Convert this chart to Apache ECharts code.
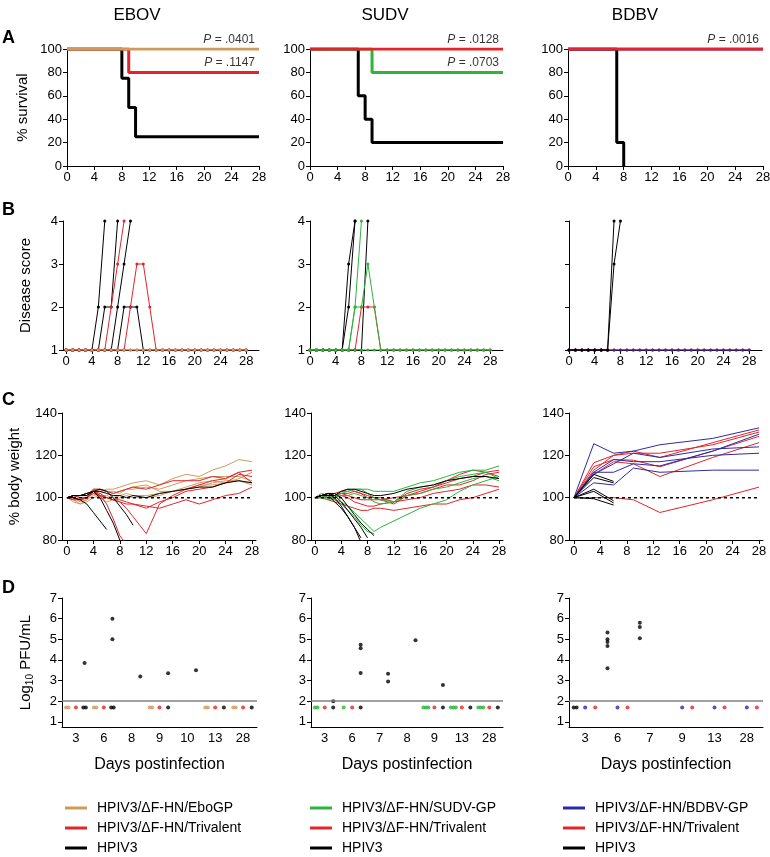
<!DOCTYPE html>
<html><head><meta charset="utf-8">
<script src="https://cdn.jsdelivr.net/npm/echarts@6/dist/echarts.min.js"></script>
<style>html,body{margin:0;padding:0;background:#fff}#c{width:770px;height:857px}</style>
</head><body><div id="c"></div>
<script>
const FONT = '"Liberation Sans", Arial, sans-serif';
const COL = {ebo:'#cf9b5c', tri:'#e3242b', hpiv:'#000000', sudv:'#2cb53a', bdbv:'#2b2ba6'};
const NAMES = {
  ebo:'HPIV3/ΔF-HN/EboGP', sudv:'HPIV3/ΔF-HN/SUDV-GP', bdbv:'HPIV3/ΔF-HN/BDBV-GP',
  tri:'HPIV3/ΔF-HN/Trivalent', hpiv:'HPIV3'
};
const columnTitles = ['EBOV','SUDV','BDBV'];
const panelLetters = ['A','B','C','D'];

// ---------- A: % survival (change points [day, %]) ----------
const survEbov_EboGP = [[0,100],[28,100]];
const survEbov_Tri   = [[0,100],[9,80],[28,80]];
const survEbov_HPIV3 = [[0,100],[8,75],[9,50],[10,25],[28,25]];
const survSudv_SudvGP= [[0,100],[9,80],[28,80]];
const survSudv_Tri   = [[0,100],[28,100]];
const survSudv_HPIV3 = [[0,100],[7,60],[8,40],[9,20],[28,20]];
const survBdbv_BdbvGP= [[0,100],[28,100]];
const survBdbv_Tri   = [[0,100],[28,100]];
const survBdbv_HPIV3 = [[0,100],[7,20],[8,0]];
const pEbov = {ebo:'.0401', tri:'.1147'};
const pSudv = {tri:'.0128', sudv:'.0703'};
const pBdbv = {tri:'.0016'};
const survTicksX = [0,4,8,12,16,20,24,28];

// ---------- B: disease score (one value per day from day 0) ----------
const allOnes = [1,1,1,1,1,1,1,1,1,1,1,1,1,1,1,1,1,1,1,1,1,1,1,1,1,1,1,1,1];
const scoreEbov_HPIV3 = [
  [1,1,1,1,1,2,4],
  [1,1,1,1,1,1,2,2,4],
  [1,1,1,1,1,1,1,1,2,3,4],
  [1,1,1,1,1,1,1,1,1,2,2,2,1,1,1,1,1,1,1,1,1,1,1,1,1,1,1,1,1]
];
const scoreEbov_Tri = [
  [1,1,1,1,1,1,1,2,3,4],
  [1,1,1,1,1,1,1,1,1,1,2,3,3,2,1,1,1,1,1,1,1,1,1,1,1,1,1,1,1],
  allOnes
];
const scoreEbov_EboGP = [allOnes];
const scoreSudv_HPIV3 = [
  [1,1,1,1,1,1,2,4],
  [1,1,1,1,1,1,3,4],
  [1,1,1,1,1,1,1,1,1,4]
];
const scoreSudv_Tri = [
  [1,1,1,1,1,1,1,1,2,2,2,1,1,1,1,1,1,1,1,1,1,1,1,1,1,1,1,1,1]
];
const scoreSudv_SudvGP = [
  [1,1,1,1,1,1,1,2,4],
  [1,1,1,1,1,1,1,2,2,3,2,1,1,1,1,1,1,1,1,1,1,1,1,1,1,1,1,1,1],
  allOnes
];
const scoreBdbv_Tri = [allOnes];
const scoreBdbv_BdbvGP = [allOnes];
const scoreBdbv_HPIV3 = [
  [1,1,1,1,1,1,1,4],
  [1,1,1,1,1,1,1,3,4]
];

// ---------- C: % body weight ----------
const bwDays = [0,1,2,3,4,5,6,7,8,9,10,12,14,16,18,20,22,24,26,28];
const bwEbov_EboGP = [
  [100,99,99,100,103,103,104,104,105,106,107,108,106,109,111,110,113,115,118,117],
  [100,100,98,99,101,102,103,102,103,104,104,105,104,106,108,109,110,110,110,108],
  [100,99,97,98,100,101,101,100,101,102,101,101,102,103,104,105,107,108,108,107],
  [100,101,100,100,102,100,98,99,100,101,100,100,101,103,105,107,108,107,109,112],
  [100,98,97,99,104,104,103,103,102,104,105,106,103,103,104,106,106,107,108,106]
];
const bwEbov_Tri = [
  [100,99,99,100,103,102,100,99,98,95,91,83,97,101,104,106,108,109,112,113],
  [100,100,99,100,102,101,100,99,99,98,97,95,98,100,103,104,105,107,111,110],
  [100,101,100,100,103,101,100,99,98,97,97,96,95,97,99,97,99,101,102,105],
  [100,101,101,101,104,104,103,102,103,104,105,104,106,108,108,108,110,109,112,107],
  [100,100,99,100,103,101,97,90,82,78]
];
const bwEbov_HPIV3 = [
  [100,100,99,97,93,89,85],
  [100,101,101,101,103,100,94,88,80],
  [100,101,101,102,103,104,103,100,96,92,87],
  [100,101,101,102,103,103,102,101,101,100,101,100,102,103,104,105,105,107,108,107]
];
const bwSudv_SudvGP = [
  [100,102,101,101,103,103,104,104,104,103,103,103,105,107,108,110,112,113,113,115],
  [100,101,100,99,98,96,93,90,87,84,86,89,92,95,97,99,103,106,108,110],
  [100,100,100,101,102,103,104,104,102,100,99,98,103,105,106,108,110,111,112,109],
  [100,100,99,100,101,101,102,101,100,98,97,98,101,102,104,105,107,109,110,108],
  [100,101,100,99,97,94,91,87,84,83]
];
const bwSudv_Tri = [
  [100,100,99,98,97,96,95,94,94,95,95,94,95,96,97,97,99,100,102,104],
  [100,101,100,100,101,100,98,97,96,96,97,98,99,100,102,103,104,106,106,105],
  [100,101,102,101,102,102,103,102,100,100,100,98,102,104,105,107,109,110,112,110],
  [100,101,101,102,103,104,103,102,101,100,99,97,101,103,105,108,111,113,112,113],
  [100,100,101,101,102,101,100,99,99,99,99,100,101,102,104,106,106,108,111,112]
];
const bwSudv_HPIV3 = [
  [100,101,101,98,95,91,86,81],
  [100,101,102,100,96,91,86,79],
  [100,101,101,101,98,94,90,86,81],
  [100,101,102,102,100,96,92,88,85,82],
  [100,101,102,101,103,104,104,103,102,101,101,102,104,105,106,108,109,110,110,109]
];
const bwDaysBdbv = [0,3,6,9,13,21,28];
const bwBdbv_BdbvGP = [
  [100,125.5,121,122,125,128,133],
  [100,112,118,117,117,120,121],
  [100,107,106,114,112,113,113],
  [100,111,116,121,119,123,124],
  [100,112,112,116,115,122,130]
];
const bwBdbv_Tri = [
  [100,100,100,99,93,99,105],
  [100,116.5,120,122,119,126,132],
  [100,114.6,118,117.7,114.6,122,129],
  [100,111,117,116,110,119,126],
  [100,113,120,121,121,125,131]
];
const bwBdbv_HPIV3 = [
  [100,111,107.7],
  [100,109.5,107],
  [100,104,98.5],
  [100,103,97.5],
  [100,99.5,96.5]
];
const bwRef = 100;

// ---------- D: virus titres (Log10 PFU/mL) ----------
const LOD = 2;          // limit of detection
const LOD_PLOT = 1.7;   // where negatives are plotted
const pfuEbovDays = ['3','6','8','9','10','13','28'];
const pfuEbov_HPIV3 = [[0,3.85],[1,6.0],[1,5.0],[2,3.2],[3,3.35],[4,3.5]];   // [day index, value]
const negEbov_EboGP = [2,2,0,2,0,2,2];   // samples below LOD per day
const negEbov_Tri   = [1,1,0,1,0,1,1];
const negEbov_HPIV3 = [2,2,0,1,0,1,1];
const pfuSudvDays = ['3','6','7','8','9','13','28'];
const pfuSudv_HPIV3 = [[0,2.0],[1,4.73],[1,4.57],[1,3.37],[2,3.33],[2,2.95],[3,4.95],[4,2.78]];
const negSudv_SudvGP = [2,1,0,0,3,3,3];
const negSudv_Tri    = [1,1,0,0,1,1,1];
const negSudv_HPIV3  = [1,1,0,0,1,1,1];
const pfuBdbvDays = ['3','6','7','9','13','28'];
const pfuBdbv_HPIV3 = [[1,5.33],[1,5.0],[1,4.87],[1,4.67],[1,3.6],[2,5.8],[2,5.6],[2,5.05]];
const negBdbv_HPIV3  = [2,0,0,0,0,0];
const negBdbv_BdbvGP = [1,1,0,1,1,1];
const negBdbv_Tri    = [1,1,0,1,1,1];
const pfuTicksY = [1,2,3,4,5,6,7];

// ================= layout =================
const grids = [
  {left:67, top:49, width:192, height:117},
  {left:310, top:49, width:193, height:117},
  {left:568, top:49, width:195, height:117},
  {left:63, top:221, width:196, height:129},
  {left:310, top:221, width:193, height:129},
  {left:569, top:221, width:193, height:129},
  {left:62, top:413, width:194, height:127},
  {left:311, top:413, width:192, height:127},
  {left:569, top:413, width:194, height:127},
  {left:62, top:598, width:195, height:129},
  {left:311, top:598, width:192, height:129},
  {left:569, top:598, width:194, height:129}
].map(g => Object.assign({containLabel:false, outerBoundsMode:'none'}, g));

const LBL = {color:'#000', fontSize:13, fontFamily:FONT, margin:5};
function axisLine(){ return {show:true, onZero:false, lineStyle:{color:'#000', width:1}}; }
function tick(cv){ const t = {show:true, length:4, lineStyle:{color:'#000', width:1}}; if (cv) t.customValues = cv; return t; }
const xAxes = [], yAxes = [];
function addAxes(gi, x, y){
  xAxes.push(Object.assign({gridIndex:gi, type:'value', splitLine:{show:false}, axisLine:axisLine()}, x));
  yAxes.push(Object.assign({gridIndex:gi, type:'value', splitLine:{show:false}, axisLine:axisLine()}, y));
}
const yName = (txt, gap) => ({name:txt, nameLocation:'middle', nameGap:gap, nameRotate:90,
  nameTextStyle:{fontSize:15, color:'#000', fontFamily:FONT}});

// A
for (let c=0;c<3;c++){
  addAxes(c,
    {min:0, max:28, interval:4, axisTick:tick(), axisLabel:Object.assign({}, LBL)},
    Object.assign({min:0, max:100, interval:20, axisTick:tick(), axisLabel:Object.assign({}, LBL)},
      c===0 ? yName('% survival', 37) : {}));
}
// B
const bMin = [-0.5, 0, 0];
for (let c=0;c<3;c++){
  addAxes(3+c,
    {min:bMin[c], max:30, axisTick:tick(survTicksX), axisLabel:Object.assign({customValues:survTicksX}, LBL)},
    Object.assign({min:1, max:4, interval:1, axisTick:tick(), axisLabel:Object.assign({show:c!==2}, LBL)},
      c===0 ? yName('Disease score', 30) : {}));
}
// C
const cMin = [-0.75, -0.6, -0.75];
for (let c=0;c<3;c++){
  addAxes(6+c,
    {min:cMin[c], max:28.6, axisTick:tick(survTicksX), axisLabel:Object.assign({customValues:survTicksX}, LBL)},
    Object.assign({min:80, max:140, interval:20, axisTick:tick(), axisLabel:Object.assign({}, LBL)},
      c===0 ? yName('% body weight', 40) : {}));
}
// D
const dCats = [pfuEbovDays, pfuSudvDays, pfuBdbvDays];
for (let c=0;c<3;c++){
  const cats = dCats[c];
  const idx = cats.map((_, i) => i);
  addAxes(9+c,
    {min:-0.5, max:cats.length-0.5, axisTick:{show:false},
     axisLabel:Object.assign({customValues:idx, formatter:v => cats[Math.round(v)]}, LBL),
     name:'Days postinfection', nameLocation:'middle', nameGap:30,
     nameTextStyle:{fontSize:16, color:'#000', fontFamily:FONT}},
    Object.assign({min:0.75, max:7, axisTick:tick(pfuTicksY), axisLabel:Object.assign({customValues:pfuTicksY}, LBL)},
      c===0 ? {name:'{a|Log}{s|10}{a| PFU/mL}', nameLocation:'middle', nameGap:27, nameRotate:90,
        nameTextStyle:{color:'#000', fontFamily:FONT, rich:{
          a:{fontSize:15, fontFamily:FONT, color:'#000', lineHeight:18},
          s:{fontSize:10, fontFamily:FONT, color:'#000', lineHeight:10, padding:[8,0,0,0], verticalAlign:'top'}}}} : {}));
}

// ================= series =================
const series = [];
function line(gi, name, pts, color, width, extra){
  series.push(Object.assign({type:'line', name, xAxisIndex:gi, yAxisIndex:gi, data:pts,
    symbol:'none', lineStyle:{color, width}, itemStyle:{color}, silent:true, animation:false, clip:true}, extra||{}));
}
function pLabel(gi, x, y, txt){
  series.push({type:'scatter', xAxisIndex:gi, yAxisIndex:gi, data:[[x,y]], symbolSize:1,
    itemStyle:{color:'rgba(0,0,0,0)'}, silent:true, animation:false,
    label:{show:true, position:'top', align:'right', distance:3, offset:[-4,0],
      formatter:'{i|P} = '+txt, fontSize:12, color:'#000', fontFamily:FONT,
      rich:{i:{fontStyle:'italic', fontSize:12, fontFamily:FONT, color:'#000'}}}});
}
// A
const SW = 3;
line(0, NAMES.hpiv, survEbov_HPIV3, COL.hpiv, SW, {step:'end'});
line(0, NAMES.tri, survEbov_Tri, COL.tri, SW, {step:'end'});
line(0, NAMES.ebo, survEbov_EboGP, COL.ebo, SW, {step:'end'});
pLabel(0, 28, 100, pEbov.ebo); pLabel(0, 28, 80, pEbov.tri);
line(1, NAMES.hpiv, survSudv_HPIV3, COL.hpiv, SW, {step:'end'});
line(1, NAMES.sudv, survSudv_SudvGP, COL.sudv, SW, {step:'end'});
line(1, NAMES.tri, survSudv_Tri, COL.tri, SW, {step:'end'});
pLabel(1, 28, 100, pSudv.tri); pLabel(1, 28, 80, pSudv.sudv);
line(2, NAMES.hpiv, survBdbv_HPIV3, COL.hpiv, SW, {step:'end'});
line(2, NAMES.bdbv, survBdbv_BdbvGP, COL.bdbv, SW, {step:'end'});
line(2, NAMES.tri, survBdbv_Tri, COL.tri, SW, {step:'end'});
pLabel(2, 28, 100, pBdbv.tri);

// B
const scorePts = arr => arr.map((v, d) => [d, v]);
function scoreGroup(gi, name, rows, color){
  rows.forEach(r => line(gi, name, scorePts(r), color, 1,
    {symbol:'circle', symbolSize:3, showSymbol:true, showAllSymbol:true}));
}
scoreGroup(3, NAMES.hpiv, scoreEbov_HPIV3, COL.hpiv);
scoreGroup(3, NAMES.tri, scoreEbov_Tri, COL.tri);
scoreGroup(3, NAMES.ebo, scoreEbov_EboGP, COL.ebo);
scoreGroup(4, NAMES.hpiv, scoreSudv_HPIV3, COL.hpiv);
scoreGroup(4, NAMES.tri, scoreSudv_Tri, COL.tri);
scoreGroup(4, NAMES.sudv, scoreSudv_SudvGP, COL.sudv);
scoreGroup(5, NAMES.tri, scoreBdbv_Tri, COL.tri);
scoreGroup(5, NAMES.bdbv, scoreBdbv_BdbvGP, COL.bdbv);
scoreGroup(5, NAMES.hpiv, scoreBdbv_HPIV3, COL.hpiv);

// C
const bwPts = (days, arr) => arr.map((v, i) => [days[i], v]);
function bwGroup(gi, name, days, rows, color){
  rows.forEach(r => line(gi, name, bwPts(days, r), color, 1));
}
function refLine(gi){
  line(gi, 'ref', [[0,bwRef],[28,bwRef]], '#000', 1.5, {lineStyle:{color:'#000', width:1.5, type:[3,3]}, z:3});
}
bwGroup(6, NAMES.ebo, bwDays, bwEbov_EboGP, COL.ebo);
bwGroup(6, NAMES.tri, bwDays, bwEbov_Tri, COL.tri);
bwGroup(6, NAMES.hpiv, bwDays, bwEbov_HPIV3, COL.hpiv);
refLine(6);
bwGroup(7, NAMES.tri, bwDays, bwSudv_Tri, COL.tri);
bwGroup(7, NAMES.sudv, bwDays, bwSudv_SudvGP, COL.sudv);
bwGroup(7, NAMES.hpiv, bwDays, bwSudv_HPIV3, COL.hpiv);
refLine(7);
bwGroup(8, NAMES.tri, bwDaysBdbv, bwBdbv_Tri, COL.tri);
bwGroup(8, NAMES.bdbv, bwDaysBdbv, bwBdbv_BdbvGP, COL.bdbv);
bwGroup(8, NAMES.hpiv, bwDaysBdbv, bwBdbv_HPIV3, COL.hpiv);
refLine(8);

// D
const GOFF = [-0.31, 0, 0.31];  // position of the three groups within a day
function negPts(counts, off){
  const pts = [];
  counts.forEach((n, ci) => { for (let k=0;k<n;k++) pts.push([ci + off + (k-(n-1)/2)*0.09, LOD_PLOT]); });
  return pts;
}
const posPts = (list, off) => list.map(([ci, v]) => [ci + off, v]);
function dots(gi, name, pts, color){
  series.push({type:'scatter', name, xAxisIndex:gi, yAxisIndex:gi, data:pts, symbolSize:4,
    itemStyle:{color}, silent:true, animation:false});
}
function lodLine(gi){
  series.push({type:'line', xAxisIndex:gi, yAxisIndex:gi, data:[], silent:true,
    markLine:{symbol:'none', silent:true, animation:false, label:{show:false},
      lineStyle:{color:'#7f7f7f', width:1.5, type:'solid'}, data:[{yAxis:LOD}]}});
}
lodLine(9); lodLine(10); lodLine(11);
dots(9, NAMES.ebo, negPts(negEbov_EboGP, GOFF[0]), COL.ebo);
dots(9, NAMES.tri, negPts(negEbov_Tri, GOFF[1]), COL.tri);
dots(9, NAMES.hpiv, negPts(negEbov_HPIV3, GOFF[2]).concat(posPts(pfuEbov_HPIV3, GOFF[2])), COL.hpiv);
dots(10, NAMES.sudv, negPts(negSudv_SudvGP, GOFF[0]), COL.sudv);
dots(10, NAMES.tri, negPts(negSudv_Tri, GOFF[1]), COL.tri);
dots(10, NAMES.hpiv, negPts(negSudv_HPIV3, GOFF[2]).concat(posPts(pfuSudv_HPIV3, GOFF[2])), COL.hpiv);
dots(11, NAMES.hpiv, negPts(negBdbv_HPIV3, GOFF[0]).concat(posPts(pfuBdbv_HPIV3, GOFF[0])), COL.hpiv);
dots(11, NAMES.bdbv, negPts(negBdbv_BdbvGP, GOFF[1]), COL.bdbv);
dots(11, NAMES.tri, negPts(negBdbv_Tri, GOFF[2]), COL.tri);

// ================= text & legend =================
const titleX = [137, 385, 635];
const letterY = [38, 210, 400, 588];
const graphic = [];
columnTitles.forEach((t, i) => graphic.push({type:'text', x:titleX[i], y:15,
  style:{text:t, font:'17px '+FONT, fill:'#000', textAlign:'center', textVerticalAlign:'middle'}}));
panelLetters.forEach((t, i) => graphic.push({type:'text', x:2, y:letterY[i],
  style:{text:t, font:'bold 18px '+FONT, fill:'#000', textAlign:'left', textVerticalAlign:'middle'}}));

const legendKeys = [['ebo','tri','hpiv'],['sudv','tri','hpiv'],['bdbv','tri','hpiv']];
const legendLeft = [65, 310, 563];
const legendRowY = [808, 828, 848];
legendKeys.forEach((keys, i) => keys.forEach((k, r) => {
  graphic.push({type:'rect', shape:{x:legendLeft[i], y:legendRowY[r]-1.5, width:22, height:3},
    style:{fill:COL[k]}, silent:true});
  graphic.push({type:'text', x:legendLeft[i]+32, y:legendRowY[r],
    style:{text:NAMES[k], font:'14px '+FONT, fill:'#000', textAlign:'left', textVerticalAlign:'middle'}, silent:true});
}));

const chart = echarts.init(document.getElementById('c'), null, {renderer:'canvas'});
chart.setOption({
  animation:false,
  textStyle:{fontFamily:FONT},
  grid:grids, xAxis:xAxes, yAxis:yAxes, series, graphic
});
</script></body></html>
